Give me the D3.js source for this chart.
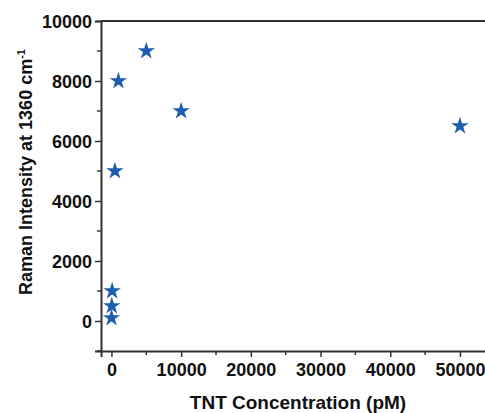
<!DOCTYPE html>
<html lang="en">
<head>
<meta charset="UTF-8">
<title>Raman Intensity vs TNT Concentration</title>
<script src="https://d3js.org/d3.v7.min.js"></script>
<style>
    body { margin: 0; background: #fff; }
    svg { display: block; }
    .tick text { font-family: "Liberation Sans", Arial, sans-serif; font-weight: bold; font-size: 18px; fill: #111; }
    .label { font-family: "Liberation Sans", Arial, sans-serif; font-weight: bold; fill: #111; }
</style>
</head>
<body>
<svg width="485" height="413"></svg>
<script>
    // data
    const concentration = [10, 50, 100, 500, 1000, 5000, 10000, 50000];   // pM
    const intensity = [100, 500, 1000, 5000, 8000, 9000, 7000, 6500];
    const xTicks = [0, 10000, 20000, 30000, 40000, 50000];
    const yTicks = [0, 2000, 4000, 6000, 8000, 10000];

    const svg = d3.select("svg");
    const plotLeft = 101, plotTop = 21, plotBottom = 351;

    const x = d3.scaleLinear().domain([-1500, 55000]).range([plotLeft, plotLeft + 56500 * 0.00697]);
    const y = d3.scaleLinear().domain([-1000, 10000]).range([plotBottom, plotTop]);

    const axisColor = "#333";

    // minor ticks
    const xMinor = d3.range(5000, 55000, 10000);
    const yMinor = d3.range(-1000, 10000, 2000);
    svg.append("g").selectAll("line").data(xMinor).join("line")
        .attr("x1", d => x(d)).attr("x2", d => x(d))
        .attr("y1", plotBottom).attr("y2", plotBottom + 4)
        .attr("stroke", axisColor).attr("stroke-width", 1.5);
    svg.append("g").selectAll("line").data(yMinor).join("line")
        .attr("x1", plotLeft - 4).attr("x2", plotLeft)
        .attr("y1", d => y(d)).attr("y2", d => y(d))
        .attr("stroke", axisColor).attr("stroke-width", 1.5);

    const xAxis = svg.append("g")
        .attr("transform", `translate(0,${plotBottom})`)
        .call(d3.axisBottom(x).tickValues(xTicks).tickFormat(d3.format("d")).tickSizeOuter(0).tickSize(6).tickPadding(6));
    const yAxis = svg.append("g")
        .attr("transform", `translate(${plotLeft},0)`)
        .call(d3.axisLeft(y).tickValues(yTicks).tickFormat(d3.format("d")).tickSizeOuter(0).tickSize(6).tickPadding(3));

    [xAxis, yAxis].forEach(g => {
        g.select(".domain").attr("stroke", axisColor).attr("stroke-width", 2);
        g.selectAll(".tick line").attr("stroke", axisColor).attr("stroke-width", 1.5);
    });
    yAxis.selectAll(".tick text").attr("dy", "0.36em");

    // top frame line
    svg.append("line")
        .attr("x1", plotLeft).attr("x2", x(55000))
        .attr("y1", plotTop).attr("y2", plotTop)
        .attr("stroke", axisColor).attr("stroke-width", 2);

    // stars
    const star = d3.symbol().type(d3.symbolStar).size(95);
    svg.append("g").selectAll("path").data(concentration).join("path")
        .attr("d", star)
        .attr("transform", (d, i) => `translate(${x(d)},${y(intensity[i])})`)
        .attr("fill", "#1d5fae");

    // axis labels
    svg.append("text").attr("class", "label")
        .attr("x", 298).attr("y", 409)
        .attr("text-anchor", "middle").attr("font-size", 19)
        .text("TNT Concentration (pM)");

    const yl = svg.append("text").attr("class", "label")
        .attr("transform", "translate(32,172) rotate(-90)")
        .attr("text-anchor", "middle").attr("font-size", 18);
    yl.append("tspan").text("Raman Intensity at 1360 cm");
    yl.append("tspan").attr("dy", "-0.6em").attr("font-size", 11).text("-1");
</script>
</body>
</html>
